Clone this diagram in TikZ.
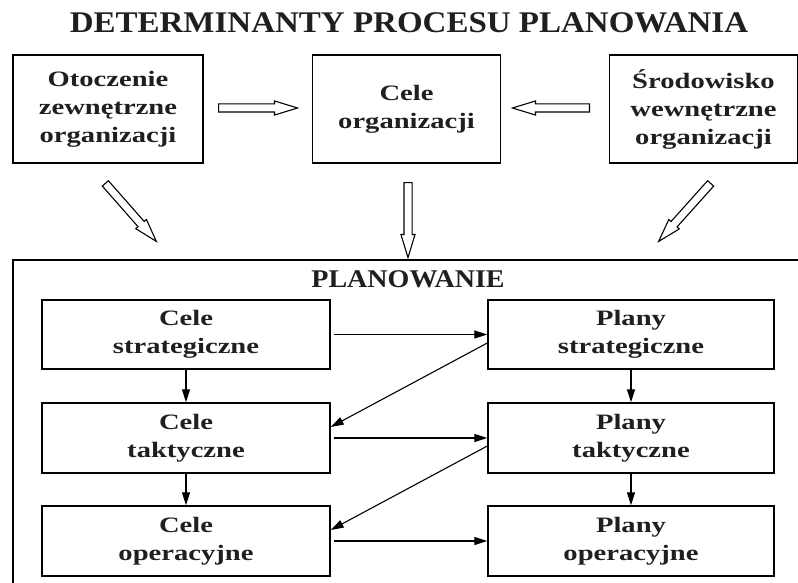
\documentclass[tikz,border=0pt]{standalone}
\usepackage{fontspec}
\setmainfont{Liberation Serif}[FakeStretch=1.3]
\newfontfamily\titlefont{Liberation Serif}[FakeStretch=1.1]
\usetikzlibrary{shapes.arrows,calc,arrows.meta}
\newcommand\hollowarrow[3]{%
  \path let \p1=(#2), \p2=(#3),
    \n1={atan2(\y2-\y1,\x2-\x1)},
    \n2={veclen(\x2-\x1,\y2-\y1)} in
    node[hollow, rotate=\n1, minimum height=\n2, anchor=tail] (#1) at (\p1) {\rule{0pt}{7pt}};}
\begin{document}
\begin{tikzpicture}[x=1pt,y=-1pt,
  box/.style={draw, line width=1.4pt, inner sep=0pt, align=center,
    font=\fontsize{22}{28}\selectfont\bfseries, text=black!88},
  topbox/.style={box, minimum width=188pt, minimum height=108pt},
  inbox/.style={box, minimum width=287pt, minimum height=69pt},
  heading/.style={anchor=base, inner sep=0pt, text=black!88},
  hollow/.style={single arrow, draw, line width=1.1pt, inner sep=0pt,
    minimum width=13pt, single arrow head extend=3pt, single arrow tip angle=34},
  thin/.style={line width=1.1pt, -{Triangle[length=13pt,width=8pt]}},
  frame/.style={line width=1.4pt}
]
\useasboundingbox (0,0) rectangle (798,583);

\node[heading, font=\titlefont\fontsize{30}{36}\selectfont\bfseries] (title) at (409,33)
  {DETERMINANTY PROCESU PLANOWANIA};

% top boxes
\node[topbox, minimum width=190pt] (ot) at (108,109) {Otoczenie\\zewnętrzne\\organizacji};
\node[topbox] (co) at (406.5,109) {Cele\\organizacji};
\node[topbox] (sr) at (703.5,109) {Środowisko\\wewnętrzne\\organizacji};

% hollow arrows
\coordinate (h1a) at (218,108);
\coordinate (h1b) at (297,108);
\coordinate (h2a) at (590,108);
\coordinate (h2b) at (513,108);
\coordinate (d1a) at (105,183);
\coordinate (d1b) at (156,241);
\coordinate (d2a) at (408,182);
\coordinate (d2b) at (408,257);
\coordinate (d3a) at (711,183);
\coordinate (d3b) at (659,241);
\hollowarrow{ha1}{h1a}{h1b}
\hollowarrow{ha2}{h2a}{h2b}
\hollowarrow{da1}{d1a}{d1b}
\hollowarrow{da2}{d2a}{d2b}
\hollowarrow{da3}{d3a}{d3b}

% planning frame
\draw[frame] (13,583) -- (13,260) -- (798,260);
\node[heading, font=\titlefont\fontsize{25.5}{30}\selectfont\bfseries] (plan) at (408,287)
  {PLANOWANIE};

% inner boxes
\node[inbox, minimum width=288pt] (c1) at (186,334.5) {Cele\\strategiczne};
\node[inbox, minimum width=288pt, minimum height=70pt] (c2) at (186,438) {Cele\\taktyczne};
\node[inbox, minimum width=288pt, minimum height=70pt] (c3) at (186,541) {Cele\\operacyjne};
\node[inbox, minimum width=286pt] (p1) at (631,334.5) {Plany\\strategiczne};
\node[inbox, minimum width=286pt, minimum height=70pt] (p2) at (631,438) {Plany\\taktyczne};
\node[inbox, minimum width=286pt, minimum height=70pt] (p3) at (631,541) {Plany\\operacyjne};

% connectors
\draw[thin] (c1) -- (c2);
\draw[thin] (c2) -- (c3);
\draw[thin] (p1) -- (p2);
\draw[thin] (p2) -- (p3);
\draw[thin, shorten <=3pt] (c1.east) -- (p1.west);
\draw[thin, shorten <=3pt] (c2.east) -- (p2.west);
\draw[thin, shorten <=3pt] (c3.east) -- (p3.west);
\draw[thin] ([yshift=-8.5pt]p1.west) -- ([yshift=11pt]c2.east);
\draw[thin] ([yshift=-8pt]p2.west) -- ([yshift=11pt]c3.east);
\end{tikzpicture}
\end{document}
